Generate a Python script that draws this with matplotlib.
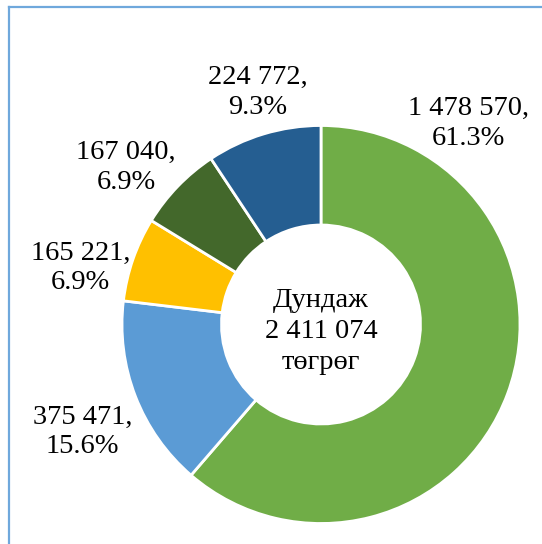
import matplotlib
matplotlib.use("Agg")
import matplotlib.pyplot as plt
from matplotlib.lines import Line2D

plt.rcParams['font.family'] = ['Liberation Serif', 'DejaVu Serif']

# Data
values = [1478570, 375471, 165221, 167040, 224772]
percents = ["61.3%", "15.6%", "6.9%", "6.9%", "9.3%"]
colors = ["#70AD47", "#5B9BD5", "#FFC000", "#43682B", "#255E91"]
total_label = "Дундаж\n2 411 074\nтөгрөг"


def fmt(v):
    return f"{v:,}".replace(",", " ")


# label positions (pie radius = 1)
label_pos = [(0.74, 1.01), (-1.20, -0.54), (-1.21, 0.285), (-0.98, 0.79), (-0.32, 1.165)]

W, H = 542, 544
R = 199.0          # pie radius in px
cx, cy = 321, 324.5

fig = plt.figure(figsize=(W / 100, H / 100), dpi=100)
ax = fig.add_axes([0, 0, 1, 1])

ax.pie(
    values,
    colors=colors,
    startangle=90,
    counterclock=False,
    radius=1,
    wedgeprops=dict(width=0.5, edgecolor="white", linewidth=2),
)

for v, p, (x, y) in zip(values, percents, label_pos):
    ax.text(x, y, f"{fmt(v)},\n{p}", ha="center", va="center",
            fontsize=20.5, linespacing=1.25, color="black")

ax.text(0, -0.035, total_label, ha="center", va="center",
        fontsize=20.5, linespacing=1.3, color="black")

ax.set_xlim(-cx / R, (W - cx) / R)
ax.set_ylim((cy - H) / R, cy / R)
ax.set_aspect("equal")
ax.axis("off")

# chart frame (left and top edges visible)
fig.add_artist(Line2D([9 / W, 9 / W], [0, 1 - 7 / H], color="#6FA8DC", linewidth=1.6))
fig.add_artist(Line2D([9 / W, 1], [1 - 7 / H, 1 - 7 / H], color="#6FA8DC", linewidth=1.6))

plt.savefig("out.png", dpi=100)
